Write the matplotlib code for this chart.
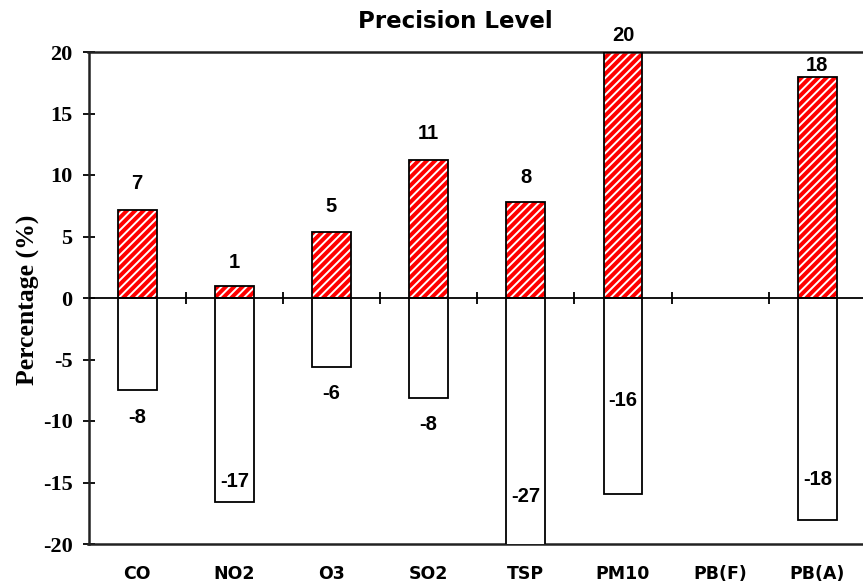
import numpy as np
import matplotlib
matplotlib.use("Agg")
import matplotlib.pyplot as plt

# ---- data ----
categories = ["CO", "NO2", "O3", "SO2", "TSP", "PM10", "PB(F)", "PB(A)"]
upper = [7.15, 0.98, 5.37, 11.2, 7.8, 20.0, np.nan, 18.0]
lower = [-7.5, -16.6, -5.6, -8.1, -27.0, -15.9, np.nan, -18.05]
yticks = [-20, -15, -10, -5, 0, 5, 10, 15, 20]

# ---- label offsets (points, style only) ----
upper_off = [19, 17, 18, 19, 18, 12, 0, 8]
lower_off = [-19.5, 15, -19, -19.5, 96, 67, 0, 29]

plt.rcParams['hatch.linewidth'] = 1.4

fig = plt.figure(figsize=(8.63, 5.84), dpi=100)
W, H = 863, 584
x0, x1 = 88.5, 866
y0, y1 = 52, 544
ax = fig.add_axes([x0 / W, 1 - y1 / H, (x1 - x0) / W, (y1 - y0) / H])

x = np.arange(len(categories))
bw = 0.4
up = np.array(upper)
lo = np.array(lower)

# positive bars: red with white diagonal hatch
ax.bar(x, up, width=bw, facecolor='#ff0000', edgecolor='white', hatch='////',
       linewidth=0, zorder=2)
ax.bar(x, up, width=bw, fill=False, edgecolor='black', linewidth=1.3, zorder=3)
# negative bars: white
ax.bar(x, lo, width=bw, facecolor='white', edgecolor='black', linewidth=1.3, zorder=3)

# zero line with category separator ticks
ax.axhline(0, color='black', linewidth=1.3, zorder=4)
bounds = np.arange(len(categories) - 1) + 0.5
ax.vlines(bounds, -0.5, 0.5, color='black', linewidth=1.3, zorder=4)

lab_font = dict(family='Liberation Sans', weight='bold', fontsize=14.5)
for i in range(len(categories)):
    if not np.isnan(up[i]):
        ax.annotate(f"{up[i]:.0f}", (x[i], up[i]), xytext=(0, upper_off[i]),
                    textcoords='offset points', ha='center', va='center',
                    annotation_clip=False, zorder=5, **lab_font)
    if not np.isnan(lo[i]):
        ax.annotate(f"{lo[i]:.0f}", (x[i], lo[i]), xytext=(0, lower_off[i]),
                    textcoords='offset points', ha='center', va='center',
                    annotation_clip=False, zorder=5, **lab_font)

ax.set_xlim(-0.5, len(categories) - 0.5)
ax.set_ylim(-20, 20)
ax.set_yticks(yticks)
ax.set_yticklabels([str(t) for t in yticks], family='Liberation Serif',
                   weight='bold', fontsize=16)
ax.tick_params(axis='y', direction='inout', length=9, width=1.3, pad=7)
ax.set_xticks(x)
ax.set_xticklabels(categories, family='DejaVu Sans', weight='bold', fontsize=12.5)
ax.tick_params(axis='x', length=0, pad=15)

for s in ['left', 'top', 'bottom']:
    ax.spines[s].set_linewidth(1.8)
    ax.spines[s].set_color('#222222')
ax.spines['right'].set_visible(False)

fig.text(455 / W, 1 - 22 / H, "Precision Level", family='DejaVu Sans',
         weight='bold', fontsize=16.5, ha='center', va='center')
fig.text(28 / W, 1 - 300 / H, "Percentage (%)", family='Liberation Serif',
         weight='bold', fontsize=18.5, rotation=90, ha='center', va='center')

fig.savefig("out.png", dpi=100)
